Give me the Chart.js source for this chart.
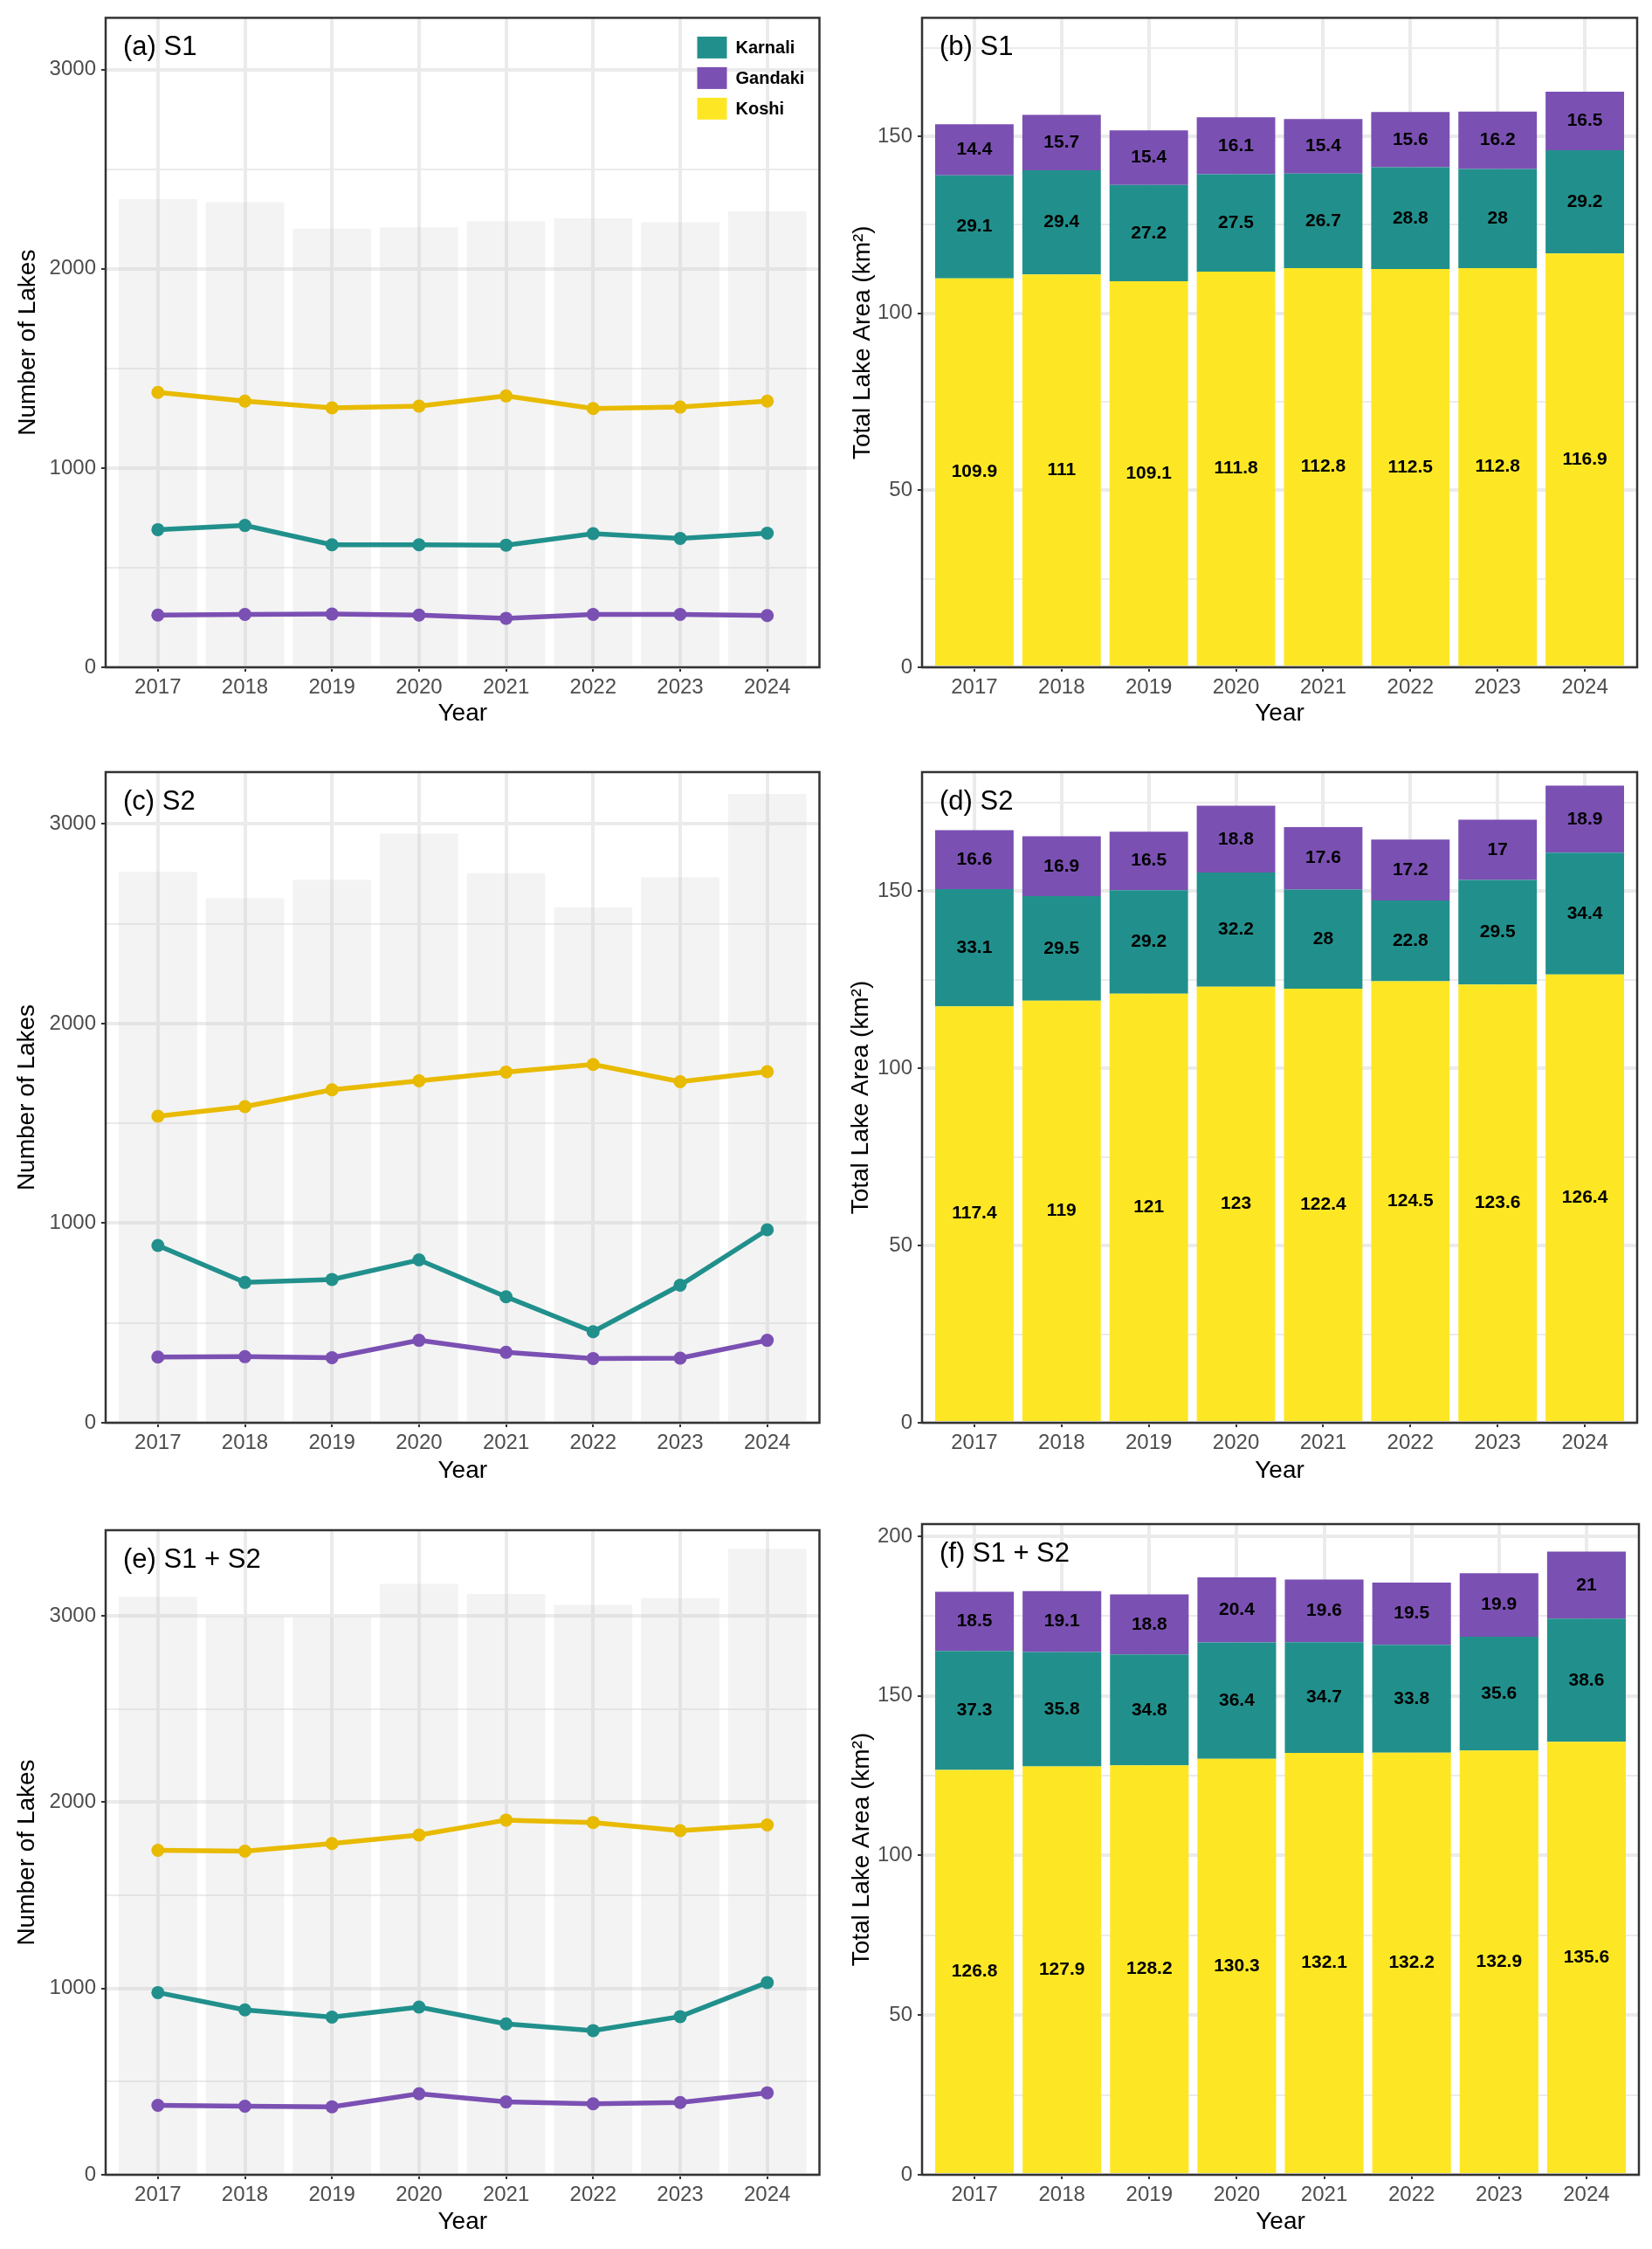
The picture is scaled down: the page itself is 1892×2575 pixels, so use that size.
<!DOCTYPE html>
<html>
<head>
<meta charset="utf-8">
<title>Lake number and area by basin</title>
<script src="https://cdn.jsdelivr.net/npm/chart.js@4.4.1/dist/chart.umd.min.js"></script>
<style>
    html, body { margin: 0; padding: 0; background: #ffffff; }
    #page { position: relative; width: 1892px; height: 2575px; background: #ffffff; }
    .panel { position: absolute; }
</style>
</head>
<body>
<div id="page"></div>
<script>
// Years on the x axis
const years = [2017, 2018, 2019, 2020, 2021, 2022, 2023, 2024];
const basins = ['Karnali', 'Gandaki', 'Koshi'];

// Number of lakes, S1
const s1Total   = [2350, 2334, 2202, 2209, 2239, 2253, 2234, 2288];
const s1KoshiN   = [1380, 1336, 1302, 1311, 1362, 1299, 1306, 1336];
const s1KarnaliN = [691, 712, 615, 615, 613, 671, 647, 673];
const s1GandakiN = [262, 265, 267, 262, 246, 265, 265, 260];

// Number of lakes, S2
const s2Total   = [2760, 2628, 2721, 2952, 2753, 2582, 2733, 3151];
const s2KoshiN   = [1536, 1584, 1668, 1713, 1757, 1795, 1709, 1759];
const s2KarnaliN = [888, 703, 718, 816, 631, 456, 689, 967];
const s2GandakiN = [329, 331, 326, 413, 353, 322, 324, 413];

// Number of lakes, S1 + S2
const s12Total   = [3103, 2995, 2992, 3172, 3118, 3059, 3095, 3360];
const s12KoshiN   = [1742, 1737, 1778, 1824, 1904, 1891, 1847, 1878];
const s12KarnaliN = [978, 885, 846, 900, 810, 774, 849, 1032];
const s12GandakiN = [373, 368, 365, 435, 391, 381, 388, 440];

// Total lake area (km²), S1
const s1KoshiA   = [109.9, 111, 109.1, 111.8, 112.8, 112.5, 112.8, 116.9];
const s1KarnaliA = [29.1, 29.4, 27.2, 27.5, 26.7, 28.8, 28, 29.2];
const s1GandakiA = [14.4, 15.7, 15.4, 16.1, 15.4, 15.6, 16.2, 16.5];

// Total lake area (km²), S2
const s2KoshiA   = [117.4, 119, 121, 123, 122.4, 124.5, 123.6, 126.4];
const s2KarnaliA = [33.1, 29.5, 29.2, 32.2, 28, 22.8, 29.5, 34.4];
const s2GandakiA = [16.6, 16.9, 16.5, 18.8, 17.6, 17.2, 17, 18.9];

// Total lake area (km²), S1 + S2
const s12KoshiA   = [126.8, 127.9, 128.2, 130.3, 132.1, 132.2, 132.9, 135.6];
const s12KarnaliA = [37.3, 35.8, 34.8, 36.4, 34.7, 33.8, 35.6, 38.6];
const s12GandakiA = [18.5, 19.1, 18.8, 20.4, 19.6, 19.5, 19.9, 21];

// colours
const fillColors = { Karnali: '#21908C', Gandaki: '#7B50B3', Koshi: '#FDE725' };
const lineColors = { Karnali: '#21908C', Gandaki: '#7B50B3', Koshi: '#E8BA00' };
const gridColor = '#EBEBEB';
const frameColor = '#333333';

Chart.defaults.font.family = "'Liberation Sans', Arial, sans-serif";
Chart.defaults.color = '#4D4D4D';
Chart.defaults.animation = false;

function pts(values) {
    return years.map((yr, i) => ({ x: yr, y: values[i] }));
}

// frame, panel tag, stack labels and the small legend
const panelDecor = {
    id: 'panelDecor',
    afterDatasetsDraw(chart, args, opts) {
        const ctx = chart.ctx;
        const a = chart.chartArea;
        ctx.save();

        if (opts.stackLabels) {
            ctx.font = "bold 21px 'Liberation Sans', Arial, sans-serif";
            ctx.fillStyle = '#000000';
            ctx.textAlign = 'center';
            ctx.textBaseline = 'middle';
            chart.data.datasets.forEach((ds, i) => {
                const meta = chart.getDatasetMeta(i);
                meta.data.forEach((bar, j) => {
                    ctx.fillText(String(ds.data[j].y), bar.x, (bar.y + bar.base) / 2);
                });
            });
        }

        ctx.strokeStyle = frameColor;
        ctx.lineWidth = 2.5;
        ctx.strokeRect(a.left, a.top, a.right - a.left, a.bottom - a.top);

        ctx.font = "31px 'Liberation Sans', Arial, sans-serif";
        ctx.fillStyle = '#000000';
        ctx.textAlign = 'left';
        ctx.textBaseline = 'middle';
        ctx.fillText(opts.tag, a.left + 20, a.top + 34);

        if (opts.legend) {
            ctx.font = "bold 20px 'Liberation Sans', Arial, sans-serif";
            basins.forEach((name, k) => {
                const cy = a.top + 34 + k * 35;
                ctx.fillStyle = fillColors[name];
                ctx.fillRect(a.right - 140, cy - 12.5, 34, 25);
                ctx.fillStyle = '#000000';
                ctx.fillText(name, a.right - 96, cy + 1);
            });
        }
        ctx.restore();
    }
};

function yAxis(opt) {
    return {
        type: 'linear',
        min: 0,
        max: opt.max,
        stacked: opt.stacked,
        afterBuildTicks: (scale) => {
            const t = [];
            for (let v = 0; v <= opt.max; v += opt.minor) t.push({ value: v });
            scale.ticks = t;
        },
        afterFit: (scale) => { scale.width = opt.width; },
        ticks: {
            font: { size: 24 },
            color: '#4D4D4D',
            padding: 6,
            callback: (v) => (v % opt.major === 0 ? String(v) : '')
        },
        grid: {
            color: gridColor,
            lineWidth: (c) => (c.tick && c.tick.value % opt.major === 0 ? 4 : 2),
            tickColor: (c) => (c.tick && c.tick.value % opt.major === 0 ? frameColor : 'rgba(0,0,0,0)'),
            tickLength: 5,
            tickWidth: 2
        },
        border: { display: false },
        title: {
            display: true,
            text: opt.title,
            color: '#000000',
            font: { size: 28 },
            padding: { top: opt.titlePad, bottom: 0 }
        }
    };
}

function xAxis(opt) {
    return {
        type: 'linear',
        min: 2016.4,
        max: 2024.6,
        offset: false,
        stacked: true,
        afterBuildTicks: (scale) => { scale.ticks = years.map(v => ({ value: v })); },
        afterFit: (scale) => { scale.height = opt.height; },
        ticks: {
            font: { size: 24 },
            color: '#4D4D4D',
            padding: 4,
            maxRotation: 0,
            autoSkip: false,
            callback: (v) => String(v)
        },
        grid: {
            offset: false,
            color: gridColor,
            lineWidth: 4,
            tickColor: frameColor,
            tickLength: 5,
            tickWidth: 2
        },
        border: { display: false },
        title: {
            display: true,
            text: 'Year',
            color: '#000000',
            font: { size: 28 },
            padding: { top: 0, bottom: opt.titlePad }
        }
    };
}

function makeCanvas(box) {
    const div = document.createElement('div');
    div.className = 'panel';
    div.style.left = box.x + 'px';
    div.style.top = box.y + 'px';
    div.style.width = box.w + 'px';
    div.style.height = box.h + 'px';
    const cv = document.createElement('canvas');
    div.appendChild(cv);
    document.getElementById('page').appendChild(div);
    return cv;
}

// Left column: lake counts as lines over the grey total bars
function countPanel(box, plot, tag, total, karnali, gandaki, koshi, ymax, showLegend, yPad, xPad) {
    const cv = makeCanvas(box);
    const line = (name, values, ord) => ({
        type: 'line', label: name, data: pts(values),
        borderColor: lineColors[name], backgroundColor: lineColors[name],
        borderWidth: 5.5, pointRadius: 7.5, pointBorderWidth: 0, tension: 0, order: ord
    });
    new Chart(cv, {
        type: 'bar',
        data: {
            datasets: [
                line('Koshi', koshi, 1),
                line('Karnali', karnali, 2),
                line('Gandaki', gandaki, 3),
                { type: 'bar', label: 'Total', data: pts(total), backgroundColor: 'rgba(200,200,200,0.22)', borderWidth: 0, barPercentage: 0.9, categoryPercentage: 1, order: 10 }
            ]
        },
        options: {
            responsive: true,
            maintainAspectRatio: false,
            layout: { padding: { top: plot.t - box.y, right: box.x + box.w - plot.r, left: 0, bottom: 0 } },
            plugins: {
                legend: { display: false },
                tooltip: { enabled: false },
                panelDecor: { tag: tag, legend: showLegend, stackLabels: false }
            },
            scales: {
                x: xAxis({ height: box.y + box.h - plot.b, titlePad: xPad }),
                y: yAxis({ max: ymax, minor: 500, major: 1000, width: plot.l - box.x, title: 'Number of Lakes', titlePad: yPad, stacked: false })
            }
        },
        plugins: [panelDecor]
    });
}

// Right column: stacked lake area by basin
function areaPanel(box, plot, tag, karnali, gandaki, koshi, ymax, yPad, xPad) {
    const cv = makeCanvas(box);
    const bar = (name, values) => ({
        label: name, data: pts(values), backgroundColor: fillColors[name],
        borderWidth: 0, barPercentage: 0.9, categoryPercentage: 1
    });
    new Chart(cv, {
        type: 'bar',
        data: { datasets: [bar('Koshi', koshi), bar('Karnali', karnali), bar('Gandaki', gandaki)] },
        options: {
            responsive: true,
            maintainAspectRatio: false,
            layout: { padding: { top: plot.t - box.y, right: box.x + box.w - plot.r, left: 0, bottom: 0 } },
            plugins: {
                legend: { display: false },
                tooltip: { enabled: false },
                panelDecor: { tag: tag, legend: false, stackLabels: true }
            },
            scales: {
                x: xAxis({ height: box.y + box.h - plot.b, titlePad: xPad }),
                y: yAxis({ max: ymax, minor: 25, major: 50, width: plot.l - box.x, title: 'Total Lake Area (km²)', titlePad: yPad, stacked: true })
            }
        },
        plugins: [panelDecor]
    });
}

countPanel({ x: 0, y: 0, w: 946, h: 850 }, { l: 121, t: 20, r: 939, b: 764 }, '(a) S1',
    s1Total, s1KarnaliN, s1GandakiN, s1KoshiN, 3260, true, 15, 16);
areaPanel({ x: 946, y: 0, w: 946, h: 850 }, { l: 1056, t: 20, r: 1875, b: 764 }, '(b) S1',
    s1KarnaliA, s1GandakiA, s1KoshiA, 183.5, 25, 16);

countPanel({ x: 0, y: 850, w: 946, h: 865 }, { l: 121, t: 884, r: 939, b: 1629 }, '(c) S2',
    s2Total, s2KarnaliN, s2GandakiN, s2KoshiN, 3260, false, 14, 14);
areaPanel({ x: 946, y: 850, w: 946, h: 865 }, { l: 1056, t: 884, r: 1875, b: 1629 }, '(d) S2',
    s2KarnaliA, s2GandakiA, s2KoshiA, 183.5, 23, 14);

countPanel({ x: 0, y: 1715, w: 946, h: 860 }, { l: 121, t: 1752, r: 939, b: 2490 }, '(e) S1 + S2',
    s12Total, s12KarnaliN, s12GandakiN, s12KoshiN, 3460, false, 14, 14);
areaPanel({ x: 946, y: 1715, w: 946, h: 860 }, { l: 1056, t: 1745, r: 1877, b: 2490 }, '(f) S1 + S2',
    s12KarnaliA, s12GandakiA, s12KoshiA, 203.8, 24, 14);
</script>
</body>
</html>
